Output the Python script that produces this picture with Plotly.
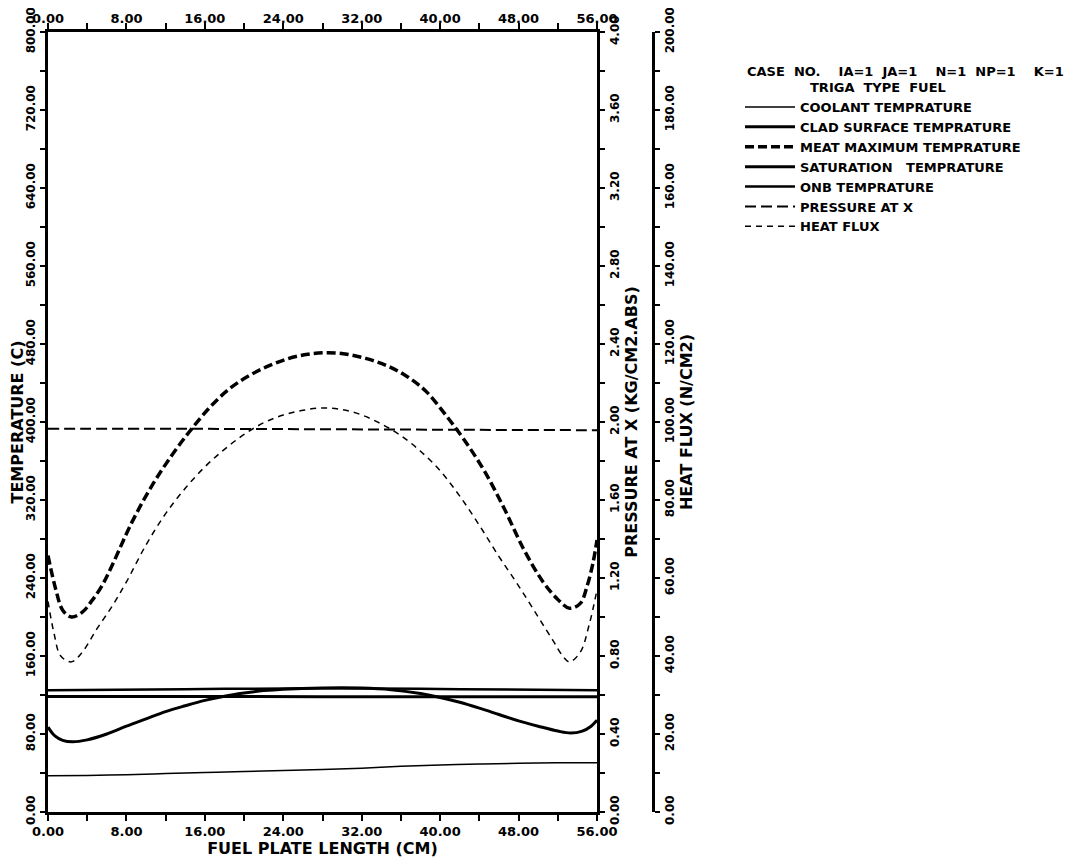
import plotly.graph_objects as go

# ---------------- data ----------------
x_cool = [0, 4, 8, 12, 16, 20, 24, 28, 32, 36, 40, 44, 48, 52, 56]
coolant = [37.2, 37.5, 38.3, 39.4, 40.5, 41.6, 42.5, 43.5, 45.0, 46.8, 48.2, 49.2, 50.0, 50.4, 50.6]

x_clad = [0, 0.7, 1.5, 2.5, 4, 6, 8, 10, 12, 14, 16, 18, 20, 22, 24, 28, 32, 35, 38, 40, 42, 44, 46, 48, 50, 52, 53.3, 54.5, 55.4, 56]
clad = [87, 78, 73.5, 72, 74, 80, 88, 95.5, 103, 109, 114.5, 118.8, 122, 124.5, 126, 127.3, 127.2, 125.5, 121.5, 117.5, 112.5, 106.5, 100, 93.5, 88, 83, 81, 83, 88, 94]

x_meat = [0, 0.8, 1.5, 2.4, 3.5, 4.5, 5.5, 6.5, 8.5, 10.5, 12.5, 14.5, 16.5, 18.5, 20.5, 22.5, 24.5, 26.5, 28.5,
          30.5, 32.5, 34.5, 36.5, 38.5, 40.5, 42.5, 44.5, 46.5, 48.5, 50.5, 52, 53.2, 54.3, 55, 55.6, 56]
meat = [263, 228, 207, 200, 205, 217, 232, 252, 296, 333, 364, 391, 415, 434, 447.5, 457.5, 465, 469.5, 471,
        469.5, 465, 458, 447.5, 432, 408, 381, 350, 312, 270, 236, 218, 209, 214, 232, 256, 279]

x_sat = [0, 14, 28, 42, 56]
saturation = [118.4, 118.4, 118.3, 118.3, 118.2]

x_onb = [0, 14, 28, 42, 56]
onb = [125.0, 126.0, 126.8, 126.0, 125.0]

x_pres = [0, 14, 28, 42, 56]
pressure = [1.965, 1.965, 1.963, 1.960, 1.958]

x_hf = [0, 0.6, 1.3, 2.4, 3.5, 5, 6.6, 8, 10, 12, 14, 16, 18, 20, 22, 24, 26, 28, 30, 32, 34, 36, 38, 40, 42, 44, 46, 48,
        50, 51.5, 52.5, 53.2, 54.3, 55.2, 56]
heat_flux = [54, 46, 40, 38.5, 41, 47, 53, 59, 68.5, 76.5, 83, 88.5, 93, 96.8, 99.8, 101.8, 103, 103.6, 103.2, 101.8,
             99.5, 96.5, 92.5, 87.5, 81, 73.5, 65.5, 58, 50, 44, 40, 38.5, 41, 48, 57]

x_ticks = [0, 8, 16, 24, 32, 40, 48, 56]
NB = "\u00a0"
header1 = "CASE" + NB * 2 + "NO." + NB * 4 + "IA=1" + NB * 2 + "JA=1" + NB * 4 + "N=1" + NB * 2 + "NP=1" + NB * 4 + "K=1"
header2 = "TRIGA" + NB * 2 + "TYPE" + NB * 2 + "FUEL"

# ---------------- figure ----------------
FONT = "DejaVu Sans"
BF = dict(family=FONT, size=13, color="black", weight="bold")
YF = dict(family=FONT, size=12, color="black", weight="bold")
TF = dict(family=FONT, size=16, color="black", weight="bold")

fig = go.Figure()
fig.add_trace(go.Scatter(x=x_cool, y=coolant, name="COOLANT TEMPRATURE", mode="lines",
                         line=dict(color="black", width=1.5, shape="spline")))
fig.add_trace(go.Scatter(x=x_clad, y=clad, name="CLAD SURFACE TEMPRATURE", mode="lines",
                         line=dict(color="black", width=3, shape="spline")))
fig.add_trace(go.Scatter(x=x_meat, y=meat, name="MEAT MAXIMUM TEMPRATURE", mode="lines",
                         line=dict(color="black", width=3.5, dash="9px,4px", shape="spline")))
fig.add_trace(go.Scatter(x=x_sat, y=saturation, name="SATURATION" + NB * 3 + "TEMPRATURE", mode="lines",
                         line=dict(color="black", width=3, shape="spline")))
fig.add_trace(go.Scatter(x=x_onb, y=onb, name="ONB TEMPRATURE", mode="lines",
                         line=dict(color="black", width=2.5, shape="spline")))
fig.add_trace(go.Scatter(x=x_pres, y=pressure, name="PRESSURE AT X", mode="lines", xaxis="x2", yaxis="y2",
                         line=dict(color="black", width=2, dash="11px,5px", shape="spline")))
fig.add_trace(go.Scatter(x=x_hf, y=heat_flux, name="HEAT FLUX", mode="lines", yaxis="y3",
                         line=dict(color="black", width=1.5, dash="6px,5px", shape="spline")))

# page is offset by the 8px body margin
OFF = 8
W, H = 1073, 857
ML, MR, MT, MB = 40, 300, 24, 53
PW = W - ML - MR
PH = H - MT - MB
plot_right = 597 - OFF
dom = (plot_right - ML) / PW


def px_x(px):
    return (px - OFF - ML) / PW


def px_y(py):
    return (H - MB - (py - OFF)) / PH


axis_common = dict(showgrid=False, zeroline=False, showline=True, linecolor="black",
                   linewidth=2.5, ticks="outside", tickcolor="black", tickwidth=2,
                   tickfont=BF, tickformat=".2f", ticklabeloverflow="allow")
yaxis_common = dict(axis_common, tickfont=YF, ticklen=5, tickangle=-90)

fig.update_layout(
    width=W, height=H,
    margin=dict(l=ML, r=MR, t=MT, b=MB, autoexpand=False),
    paper_bgcolor="white", plot_bgcolor="white",
    font=dict(family=FONT, color="black"),
    showlegend=True,
    legend=dict(x=px_x(740), y=px_y(92), xanchor="left", yanchor="top",
                font=BF, bgcolor="rgba(0,0,0,0)", borderwidth=0, tracegroupgap=0,
                itemwidth=50),
    xaxis=dict(axis_common, domain=[0, dom], range=[0, 56], tickvals=x_ticks, ticklen=6,
               minor=dict(dtick=4, ticks="outside", ticklen=6, tickcolor="black", tickwidth=2),
               anchor="y",
               title=dict(text="FUEL PLATE LENGTH (CM)", font=TF, standoff=0)),
    xaxis2=dict(axis_common, domain=[0, dom], range=[0, 56], tickvals=x_ticks, ticklen=6,
                minor=dict(dtick=4, ticks="outside", ticklen=6, tickcolor="black", tickwidth=2),
                overlaying="x", side="top", anchor="y", matches="x", ticklabelstandoff=-5),
    yaxis=dict(yaxis_common, range=[0, 800], dtick=80, tick0=0,
               minor=dict(dtick=40, ticks="outside", ticklen=5, tickcolor="black", tickwidth=2),
               anchor="x",
               title=dict(text="TEMPERATURE (C)", font=TF, standoff=2)),
    yaxis2=dict(yaxis_common, range=[0, 4], dtick=0.4, tick0=0,
                minor=dict(dtick=0.2, ticks="outside", ticklen=5, tickcolor="black", tickwidth=2),
                overlaying="y", side="right", anchor="x",
                title=dict(text="PRESSURE AT X (KG/CM2.ABS)", font=TF, standoff=2)),
    yaxis3=dict(yaxis_common, range=[0, 200], dtick=20, tick0=0,
                minor=dict(dtick=10, ticks="outside", ticklen=5, tickcolor="black", tickwidth=2),
                overlaying="y", side="right", anchor="free", position=px_x(653),
                title=dict(text="HEAT FLUX (N/CM2)", font=TF, standoff=2)),
    annotations=[
        dict(text=header1, xref="paper", yref="paper", x=px_x(745), y=px_y(71),
             xanchor="left", yanchor="middle", showarrow=False, font=BF),
        dict(text=header2, xref="paper", yref="paper", x=px_x(808), y=px_y(88),
             xanchor="left", yanchor="middle", showarrow=False, font=BF),
    ],
)

fig.write_html("out.html")
